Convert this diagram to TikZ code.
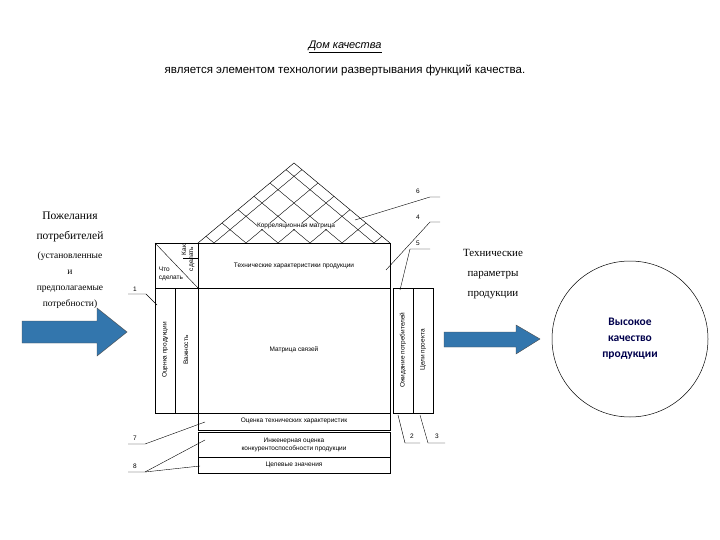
\documentclass[tikz,border=0pt]{standalone}
\usepackage{fontspec}
\setmainfont{Liberation Sans}
\newfontfamily\serif{Liberation Serif}
\newfontfamily\carl{Carlito}
\begin{document}
\begin{tikzpicture}[x=1pt,y=-1pt,
  box/.style={draw,line width=0.5pt},
  sm/.style={font=\fontsize{6.5}{7.5}\selectfont,inner sep=0pt},
  lead/.style={line width=0.4pt},
  num/.style={font=\fontsize{6.5}{7}\selectfont,inner sep=1pt},
  bluearrow/.style={draw=black!70,fill=blue!45!cyan!60!black!80,line width=0.4pt}]
\useasboundingbox (0,0) rectangle (720,540);
% title
\node (t1) at (345,47) {\fontsize{11}{13}\selectfont\itshape\underline{Дом качества}};
\node (t2) at (345,70) {\fontsize{11.5}{13}\selectfont являетcя элементом технологии развертывания функций качества.};
% roof
\coordinate (rl) at (198,243); \coordinate (rr) at (390,243); \coordinate (ra) at (294,163);
\begin{scope}
\clip (rl) -- (ra) -- (rr) -- cycle;
\foreach \k in {-6,...,12}{
  \draw[line width=0.4pt] (198+16+32*\k,243) -- ++(192,-160);
  \draw[line width=0.4pt] (198+16+32*\k,243) -- ++(-192,-160);
}
\end{scope}
\draw[box] (rl) -- (ra) -- (rr);
\node[sm,fill=white,inner sep=0.5pt] (corr) at (296,226) {Корреляционная матрица};
% tech characteristics
\draw[box] (198,243) rectangle (390,288);
\node[sm] (tech) at (294,266) {Технические характеристики продукции};
% what / how box
\draw[box] (155,243) rectangle (198,288);
\draw[lead] (155,243) -- (198,288);
\draw[lead] (183,258) -- (198,258);
\node[sm,rotate=90] (kak1) at (184,250) {Как};
\node[sm,rotate=90] (kak2) at (192,259) {сделать};
\node[sm,align=left] (chto) at (171,274) {Что\\сделать};
% left columns
\draw[box] (155,288) rectangle (198,413);
\draw[lead] (175,288) -- (175,413);
\node[sm,rotate=90] (ocp) at (165,350) {Оценка продукции};
\node[sm,rotate=90] (vazh) at (186,350) {Важность};
% matrix
\draw[box] (198,288) rectangle (390,413);
\node[sm] (mat) at (294,350) {Матрица связей};
% right columns
\draw[box] (393,288) rectangle (433,413);
\draw[lead] (413,288) -- (413,413);
\node[sm,rotate=90] (ozh) at (403,350) {Ожидание потребителей};
\node[sm,rotate=90] (cel) at (423,350) {Цели проекта};
% bottom rows
\draw[box] (198,413) rectangle (390,430);
\node[sm] (otx) at (294,421) {Оценка технических характеристик};
\draw[box] (198,432) rectangle (390,473);
\draw[lead] (198,457) -- (390,457);
\node[sm,align=center] (ing) at (294,445) {Инженерная оценка\\конкурентоспособности продукции};
\node[sm] (celz) at (294,465) {Целевые значения};
% numbers and leaders
\node[num] (n6) at (418,191) {6};
\draw[lead] (355,220) -- (430,197) -- (440,197);
\node[num] (n4) at (418,217) {4};
\draw[lead] (386,270) -- (430,222) -- (440,222);
\node[num] (n5) at (418,243) {5};
\draw[lead] (400,290) -- (410,249) -- (430,249);
\node[num] (n1) at (135,289) {1};
\draw[lead] (128,294) -- (146,294) -- (157,305);
\node[num] (n7) at (135,438) {7};
\draw[lead] (128,444) -- (145,444) -- (205,422);
\node[num] (n8) at (135,466) {8};
\draw[lead] (128,472) -- (145,472) -- (205,440);
\draw[lead] (145,472) -- (200,466);
\node[num] (n2) at (412,436) {2};
\draw[lead] (398,415) -- (405,443) -- (420,443);
\node[num] (n3) at (437,436) {3};
\draw[lead] (420,415) -- (428,443) -- (445,443);
% left text and arrow
\node[align=center,inner sep=0pt,font=\serif\fontsize{11.5}{20}\selectfont] (wish) at (70,227) {Пожелания\\потребителей};
\node[align=center,inner sep=0pt,font=\serif\fontsize{9.5}{16}\selectfont] (wish2) at (70,280) {(установленные\\и\\предполагаемые\\потребности)};
\draw[bluearrow] (22,321) -- (97,321) -- (97,308) -- (127,332) -- (97,356) -- (97,343) -- (22,343) -- cycle;
% right text and arrow
\node[align=center,inner sep=0pt,font=\serif\fontsize{11}{20}\selectfont] (tp) at (493,274) {Технические\\параметры\\продукции};
\draw[bluearrow] (444,332) -- (516,332) -- (516,325) -- (540,339) -- (516,354) -- (516,347) -- (444,347) -- cycle;
% circle
\node[draw,circle,minimum size=156pt,line width=0.5pt,align=center,font=\carl\bfseries\fontsize{11.5}{16}\selectfont,text=blue!30!black] (hq) at (630,339) {Высокое\\качество\\продукции};
\end{tikzpicture}
\end{document}
